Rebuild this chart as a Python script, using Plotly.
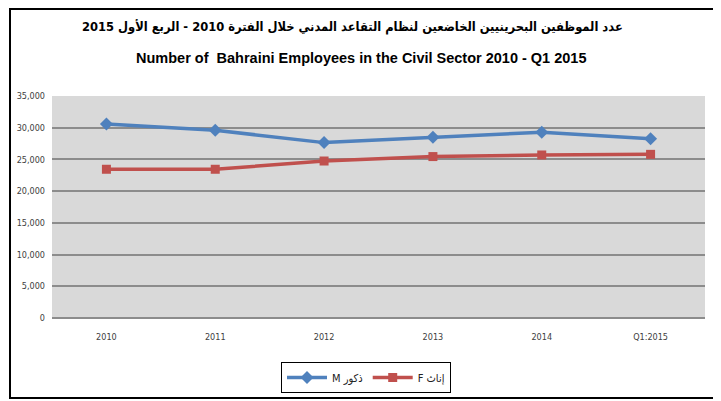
import plotly.graph_objects as go

categories = ["2010", "2011", "2012", "2013", "2014", "Q1:2015"]
males = [30600, 29600, 27650, 28500, 29300, 28250]
females = [23450, 23450, 24750, 25450, 25700, 25800]
y_ticks = [0, 5000, 10000, 15000, 20000, 25000, 30000, 35000]
y_tick_text = ["0", "5,000", "10,000", "15,000", "20,000", "25,000", "30,000", "35,000"]
title_ar = "عدد الموظفين البحرينيين الخاضعين لنظام التقاعد المدني خلال الفترة 2010 - الربع الأول 2015"
title_en = "Number of  Bahraini Employees in the Civil Sector 2010 - Q1 2015"
name_m = "M ذكور"
name_f = "F إناث"

OFF = 8  # page body margin
W, H = 721 - OFF, 401 - OFF
# plot area in reference-screen pixels
SL, SR, ST, SB = 52, 705, 96, 318
L, R, T, B = SL - OFF, SR - OFF, ST - OFF, SB - OFF

def px(x):
    return (x - OFF - L) / (R - L)

def py(y):
    return (B - (y - OFF)) / (B - T)

fig = go.Figure()
fig.add_trace(go.Scatter(
    x=categories, y=males, name=name_m, mode="lines+markers",
    line=dict(color="#4f81bd", width=3.5),
    marker=dict(symbol="diamond", size=10, color="#4f81bd"),
))
fig.add_trace(go.Scatter(
    x=categories, y=females, name=name_f, mode="lines+markers",
    line=dict(color="#c0504d", width=3.5),
    marker=dict(symbol="square", size=9, color="#c0504d"),
))

fig.update_layout(
    width=W, height=H,
    margin=dict(l=L, r=W - R, t=T, b=H - B, pad=0, autoexpand=False),
    paper_bgcolor="white",
    plot_bgcolor="#d9d9d9",
    font=dict(family="DejaVu Sans Condensed, sans-serif", size=9, color="#404040"),
    showlegend=True,
    legend=dict(
        orientation="h", x=px(366), xanchor="center", y=py(362), yanchor="top",
        bordercolor="black", borderwidth=1, bgcolor="white",
        font=dict(size=11, color="#222", family="DejaVu Sans Condensed, sans-serif"),
        itemwidth=40, tracegroupgap=0,
    ),
    xaxis=dict(
        type="category", showgrid=False, zeroline=False,
        showline=False, ticks="", ticklabelstandoff=12,
        tickfont=dict(size=9, color="#404040"),
        range=[-0.5, 5.5],
    ),
    yaxis=dict(
        range=[0, 35000], tickvals=y_ticks, ticktext=y_tick_text,
        showgrid=True, gridcolor="#8c8c8c", gridwidth=1.5,
        zeroline=True, zerolinecolor="#8c8c8c", zerolinewidth=1.5,
        showline=False, ticks="", ticklabelstandoff=6,
        tickfont=dict(size=9, color="#404040"),
    ),
    annotations=[
        dict(text="<b>" + title_ar + "</b>", xref="paper", yref="paper",
             x=px(352), y=py(27), xanchor="center", yanchor="middle", showarrow=False,
             font=dict(size=12.8, color="black", family="DejaVu Sans Condensed, DejaVu Sans, sans-serif")),
        dict(text="<b>" + title_en + "</b>", xref="paper", yref="paper",
             x=px(361), y=py(58), xanchor="center", yanchor="middle", showarrow=False,
             font=dict(size=14.5, color="black", family="Liberation Sans, Arial, sans-serif")),
    ],
    shapes=[
        dict(type="rect", xref="paper", yref="paper",
             x0=px(10), x1=px(716), y0=py(398), y1=py(9),
             line=dict(color="black", width=2), fillcolor="rgba(0,0,0,0)", layer="above"),
    ],
)

fig.write_html("out.html")
